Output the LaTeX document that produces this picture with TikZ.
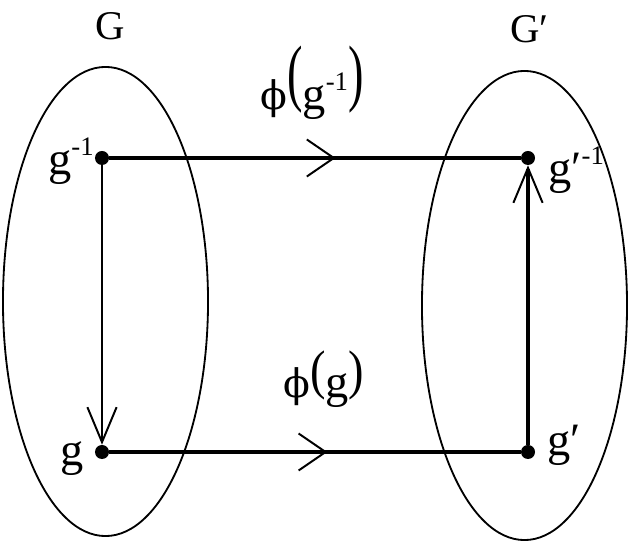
\documentclass[tikz,border=0pt]{standalone}
\usepackage{fontspec}
\setmainfont{Liberation Serif}
\newfontfamily\phifont{DejaVu Serif}
\usetikzlibrary{arrows.meta,decorations.markings}
\newcommand\supone{\raisebox{0.42em}{\fontsize{19}{19}\selectfont -1}}
\newcommand\tallpar[3]{\raisebox{#2}{\scalebox{1}[#1]{#3}}}
\newcommand\phichar{{\fontsize{28}{30}\phifont ϕ}}

\begin{document}
\begin{tikzpicture}[x=0.025cm,y=-0.025cm,
		lbl/.style={inner sep=0pt,font=\fontsize{29}{32}\selectfont},
		elt/.style={inner sep=0pt,font=\fontsize{33}{36}\selectfont},
		dot/.style={circle,fill,inner sep=0pt,minimum size=0.35cm},
		setline/.style={line width=1.3pt},
		barb/.style={-{Straight Barb[length=0.875cm,width=0.73cm,line width=1.4pt]}},
		midbarb/.style={decoration={markings,mark=at position #1 with {\arrow{Straight Barb[length=0.675cm,width=0.925cm,line width=1.4pt]}}},postaction={decorate}}
	]
			\useasboundingbox (0,0) rectangle (640,544);
			% the two sets
			\draw [setline] (105.5,301.5) ellipse [x radius=2.5625cm, y radius=5.8625cm];
			\draw [setline] (524.5,305.5) ellipse [x radius=2.5625cm, y radius=5.8625cm];
			\node [lbl, anchor=base] (setG) at (110,40) {G};
			\node [lbl, anchor=base west] (setGp) at (510,43) {G′};
			% elements
			\node [dot] (ginv) at (102,158) {};
			\node [dot] (g) at (102,452) {};
			\node [dot] (gpinv) at (528,158) {};
			\node [dot] (gp) at (528,452) {};
			\node [elt, anchor=base west] (lginv) at (48,175) {g\supone};
			\node [elt, anchor=base west] (lg) at (60,466) {g};
			\node [elt, anchor=base west] (lgpinv) at (548,184) {g′\supone};
			\node [elt, anchor=base west] (lgp) at (547,456) {g′};
			% maps
			\draw [line width=2.2pt, midbarb=0.55] (ginv) -- (gpinv);
			\draw [line width=2.2pt, midbarb=0.53] (g) -- (gp);
			\draw [line width=1.5pt, barb] (ginv) -- (g);
			\draw [line width=2.2pt, barb] (gp) -- (gpinv);
			\node [elt, anchor=base west] (phiginv) at (260,110) {\phichar\tallpar{1.6}{0.28em}{(}g\supone\tallpar{1.6}{0.28em}{)}};
			\node [elt, anchor=base west] (phig) at (283,398) {\phichar\tallpar{1.17}{0.2em}{(}g\tallpar{1.17}{0.2em}{)}};
		\end{tikzpicture}
\end{document}
